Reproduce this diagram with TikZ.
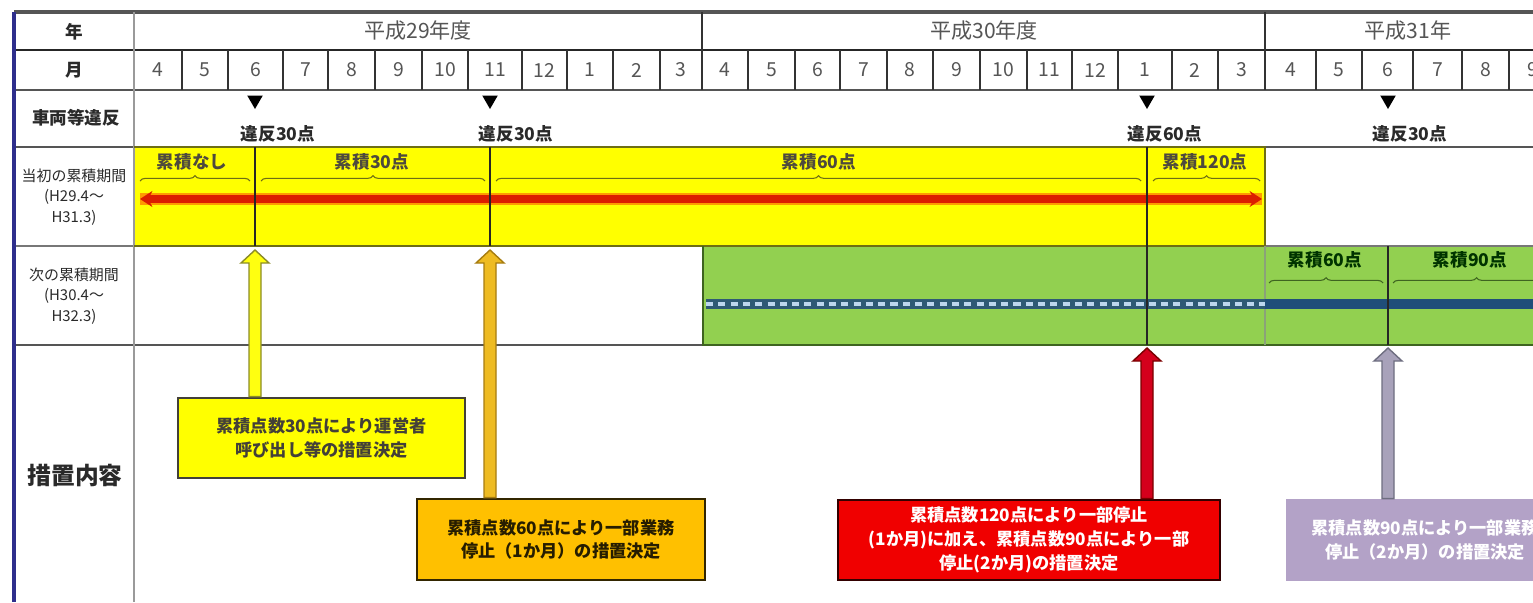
\documentclass[tikz,border=0pt]{standalone}
\usepackage{fontspec}
\setmainfont{Noto Sans CJK JP}
\usetikzlibrary{calc,shapes.geometric,arrows.meta,decorations.pathreplacing}
\definecolor{yfill}{HTML}{FFFF00}
\definecolor{yedge}{HTML}{6E6E14}
\definecolor{gfill}{HTML}{92D050}
\definecolor{gedge}{HTML}{3E6420}
\definecolor{ofill}{HTML}{FFC000}
\definecolor{rfill}{HTML}{F00000}
\definecolor{pfill}{HTML}{B3A2C7}
\definecolor{navy}{HTML}{2E2E8C}
\definecolor{gridd}{HTML}{555555}
\definecolor{gridl}{HTML}{9A9A9A}
\definecolor{redline}{HTML}{DC1E00}
\definecolor{orline}{HTML}{FF9A00}
\definecolor{blueline}{HTML}{1F4E79}
\definecolor{bluedash}{HTML}{BDD7EE}
\definecolor{bluedark}{HTML}{2E5A74}
\definecolor{txt}{HTML}{2A2A2A}
\definecolor{ya}{HTML}{FFFF10}
\definecolor{yaedge}{HTML}{8C8C28}
\definecolor{oa}{HTML}{EEBB22}
\definecolor{oaedge}{HTML}{A67C10}
\definecolor{ra}{HTML}{D4001C}
\definecolor{raedge}{HTML}{7A0000}
\definecolor{pa}{HTML}{A8A2BA}
\definecolor{paedge}{HTML}{6E6E80}

\newcommand{\blockarrow}[4]{%
  \filldraw[fill=#3,draw=#4,line width=0.8pt,line join=miter]
    ($(#2.north -| #1)+(-6,0)$) -- ($(#1)+(-6,13)$) -- ($(#1)+(-14,13)$) -- (#1)
    -- ($(#1)+(14,13)$) -- ($(#1)+(6,13)$) -- ($(#2.north -| #1)+(6,0)$) -- cycle;}

\begin{document}
\begin{tikzpicture}[x=0.02cm,y=-0.02cm,
  yr/.style={font=\fontsize{12}{14}\selectfont,text=gridd},
  mo/.style={font=\fontsize{11}{13}\selectfont,text=gridd},
  hdr/.style={font=\bfseries\fontsize{10}{12}\selectfont,text=txt},
  hdrs/.style={font=\fontsize{8.5}{11.5}\selectfont,text=txt,align=center},
  vlab/.style={font=\bfseries\fontsize{10}{12}\selectfont,text=txt},
  clab/.style={font=\bfseries\fontsize{10}{12}\selectfont,text=black!80!yellow},
  glab/.style={font=\bfseries\fontsize{10}{12}\selectfont,text=black!80!green},
  tri/.style={regular polygon,regular polygon sides=3,shape border rotate=180,fill=black,inner sep=0pt,minimum size=0.36cm},
  brc/.style={decorate,decoration={brace,amplitude=3pt},line width=0.6pt},
  vline/.style={line width=1.1pt,draw=black!85},
  msbox/.style={align=center,inner sep=0pt,line width=1.6pt,font=\bfseries\fontsize{9.8}{13.5}\selectfont},
]
\useasboundingbox (0,0) rectangle (1533,602);
\begin{scope}
\clip (0,0) rectangle (1533,602);
\fill[white] (0,0) rectangle (1533,602);

% coloured rows
\fill[yfill] (134,147) rectangle (1265,246);
\fill[gfill] (703,246) rectangle (1570,345);

% grid
\draw[gridd,line width=2pt] (14,12) -- (1540,12);
\draw[black!85,line width=1.5pt] (14,50) -- (1540,50);
\draw[gridd,line width=1.3pt] (14,90) -- (1540,90);
\draw[gridd,line width=1.3pt] (14,147) -- (1540,147);
\draw[gridd!80,line width=1.3pt] (14,246) -- (1540,246);
\draw[gridd,line width=1.3pt] (14,345) -- (1540,345);
\draw[gridl,line width=1.5pt] (134,12) -- (134,602);
\draw[navy,line width=2pt] (14,12) -- (14,602);
\foreach \xx in {182,228,283,328,375,422,468,522,567,613,660,748,795,840,887,933,980,1027,1072,1118,1172,1218,1316,1362,1413,1462,1509}
  \draw[black!80,line width=1.1pt] (\xx,50) -- (\xx,90);
\draw[black!80,line width=1.5pt] (702,12) -- (702,90);
\draw[black!80,line width=1.5pt] (1265,12) -- (1265,90);

% yellow / green row outlines
\draw[yedge,line width=1.4pt] (134,147) -- (1265,147) -- (1265,246) -- (134,246);
\draw[gedge,line width=1.4pt] (703,246) -- (703,345) -- (1570,345);
\draw[gedge!60,line width=0.8pt] (1265,246) -- (1265,345);

% header texts
\node[hdr] (hY) at (74,32) {年};
\node[hdr] (hM) at (74,70) {月};
\node[hdr] (hV) at (76,118) {車両等違反};
\node[hdrs] (hP1) at (74,197) {当初の累積期間\\(H29.4～\\H31.3)};
\node[hdrs] (hP2) at (74,296) {次の累積期間\\(H30.4～\\H32.3)};
\node[font=\bfseries\fontsize{13.5}{15}\selectfont,text=txt] (hC) at (75,475) {措置内容};

% years
\node[yr] (y29) at (418,31) {平成29年度};
\node[yr] (y30) at (984,31) {平成30年度};
\node[yr] (y31) at (1408,31) {平成31年};

% months
\foreach \a/\b/\m [count=\i] in {134/182/4,182/228/5,228/283/6,283/328/7,328/375/8,375/422/9,422/468/10,468/522/11,522/567/12,567/613/1,613/660/2,660/702/3,702/748/4,748/795/5,795/840/6,840/887/7,887/933/8,933/980/9,980/1027/10,1027/1072/11,1072/1118/12,1118/1172/1,1172/1218/2,1218/1265/3,1265/1316/4,1316/1362/5,1362/1413/6,1413/1462/7,1462/1509/8,1509/1556/9}
  \node[mo] (m\i) at ({(\a+\b)/2},70) {\m};

% violations
\node[tri] (v1) at (255,100) {};
\node[tri] (v2) at (490,100) {};
\node[tri] (v3) at (1147,100) {};
\node[tri] (v4) at (1388,100) {};
\node[vlab] (l1) at (278,134) {違反30点};
\node[vlab] (l2) at (516,134) {違反30点};
\node[vlab] (l3) at (1165,134) {違反60点};
\node[vlab] (l4) at (1410,134) {違反30点};

% vertical marker lines
\coordinate (a1) at (255,147); \coordinate (a1b) at (255,246);
\coordinate (a2) at (490,147); \coordinate (a2b) at (490,246);
\coordinate (a3) at (1147,147); \coordinate (a3b) at (1147,345);
\coordinate (a4) at (1388,246); \coordinate (a4b) at (1388,345);

% red period line
\coordinate (rs) at (140,199); \coordinate (re) at (1262,199);
\draw[orline,line width=6.5pt] (rs) -- (re);
\draw[redline,line width=4.2pt,{Stealth[length=7pt,width=9pt]}-{Stealth[length=7pt,width=9pt]}] (rs) -- (re);

% blue period line
\coordinate (bs) at (706,304); \coordinate (bm) at (1265,304); \coordinate (be) at (1570,304);
\draw[bluedark,line width=5.5pt] (bs) -- (bm);
\draw[bluedash,line width=2.2pt,dash pattern=on 4pt off 3pt] (bs) -- (bm);
\draw[blueline,line width=5.5pt] (bm) -- (be);

\draw[vline] (a1) -- (a1b);
\draw[vline] (a2) -- (a2b);
\draw[vline] (a3) -- (a3b);
\draw[vline] (a4) -- (a4b);

% yellow row labels and braces
\node[clab] (c1) at (192,162) {累積なし};
\node[clab] (c2) at (372,162) {累積30点};
\node[clab] (c3) at (819,162) {累積60点};
\node[clab] (c4) at (1205,162) {累積120点};
\draw[brc,yedge] (140,181) -- (250,181);
\draw[brc,yedge] (261,181) -- (485,181);
\draw[brc,yedge] (496,181) -- (1141,181);
\draw[brc,yedge] (1153,181) -- (1260,181);

% green row labels and braces
\node[glab] (g1) at (1325,260) {累積60点};
\node[glab] (g2) at (1470,260) {累積90点};
\draw[brc,gedge] (1269,283) -- (1383,283);
\draw[brc,gedge] (1393,283) -- (1560,283);

% measure boxes
\node[msbox,fill=yfill,draw=black!85!yellow,minimum width=5.74cm,minimum height=1.6cm,text=black!85!yellow] (bY) at (321.5,438) {累積点数30点により運営者\\呼び出し等の措置決定};
\node[msbox,fill=ofill,draw=black!80!ofill,minimum width=5.76cm,minimum height=1.62cm,text=black!85!ofill] (bO) at (561,539.5) {累積点数60点により一部業務\\停止（1か月）の措置決定};
\node[msbox,fill=rfill,draw=black!80!red,minimum width=7.64cm,minimum height=1.6cm,text=white] (bR) at (1029,540) {累積点数120点により一部停止\\(1か月)に加え、累積点数90点により一部\\停止(2か月)の措置決定};
\node[msbox,fill=pfill,draw=pfill,minimum width=5.5cm,minimum height=1.6cm,text=white] (bP) at (1425,540) {累積点数90点により一部業務\\停止（2か月）の措置決定};

% block arrows from boxes up to the timeline
\coordinate (tY) at (255,250);
\coordinate (tO) at (490,250);
\coordinate (tR) at (1147,348);
\coordinate (tP) at (1388,348);
\blockarrow{tY}{bY}{ya}{yaedge}
\blockarrow{tO}{bO}{oa}{oaedge}
\blockarrow{tR}{bR}{ra}{raedge}
\blockarrow{tP}{bP}{pa}{paedge}
\end{scope}
\end{tikzpicture}
\end{document}
